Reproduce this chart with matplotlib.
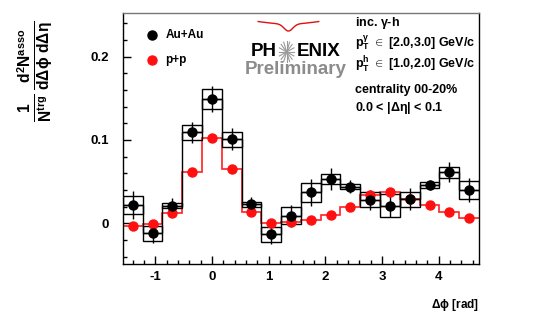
#!/usr/bin/env python3
"""PHENIX preliminary: inclusive photon-hadron correlation, Au+Au vs p+p."""

import numpy as np
import matplotlib
matplotlib.use("Agg")
import matplotlib.pyplot as plt
from matplotlib.patches import Rectangle
from matplotlib.ticker import MultipleLocator

# --- data ---
n_bins = 18
bin_edges = np.linspace(-np.pi / 2, 3 * np.pi / 2, n_bins + 1)

auau_y = [0.022, -0.012, 0.021, 0.109, 0.149, 0.101, 0.023, -0.013, 0.009,
          0.037, 0.053, 0.044, 0.028, 0.021, 0.029, 0.046, 0.061, 0.040]
auau_stat = [0.017, 0.012, 0.009, 0.013, 0.016, 0.013, 0.008, 0.012, 0.013,
             0.016, 0.013, 0.008, 0.012, 0.014, 0.013, 0.006, 0.012, 0.014]
auau_sys = [0.011, 0.009, 0.003, 0.009, 0.012, 0.009, 0.003, 0.009, 0.010,
            0.011, 0.006, 0.003, 0.009, 0.014, 0.009, 0.004, 0.007, 0.011]
pp_y = [-0.003, -0.001, 0.012, 0.061, 0.102, 0.065, 0.014, 0.000, 0.001,
        0.004, 0.010, 0.020, 0.034, 0.037, 0.029, 0.022, 0.014, 0.006]

info_lines = [
    r"inc. $\mathbf{\gamma}$-h",
    r"p$_\mathbf{T}^\mathbf{\gamma}$ $\in$ [2.0,3.0] GeV/c",
    r"p$_\mathbf{T}^\mathbf{h}$ $\in$ [1.0,2.0] GeV/c",
    "centrality 00-20%",
    r"0.0 < |$\Delta\eta$| < 0.1",
]

plt.rcParams["font.family"] = ["Liberation Sans", "DejaVu Sans"]
plt.rcParams["mathtext.fontset"] = "custom"
plt.rcParams["mathtext.rm"] = "Liberation Sans:bold"
plt.rcParams["mathtext.bf"] = "Liberation Sans:bold"
plt.rcParams["mathtext.it"] = "Liberation Sans:bold"

fig = plt.figure(figsize=(5.34, 3.31), dpi=100)
ax = fig.add_axes([0.230, 0.2024, 0.667, 0.7583])

centers = 0.5 * (bin_edges[:-1] + bin_edges[1:])
width = bin_edges[1] - bin_edges[0]

# p+p step line and points
ax.stairs(pp_y, bin_edges, baseline=None, color="#ff2020", lw=1.2, zorder=2)
ax.plot(centers, pp_y, "o", color="#ff1010", ms=6.5, zorder=4)

# Au+Au step line, sys boxes, x bars, stat bars
ax.stairs(auau_y, bin_edges, baseline=None, color="black", lw=1.0, zorder=3)
for i in range(n_bins):
    ax.add_patch(Rectangle((bin_edges[i], auau_y[i] - auau_sys[i]), width,
                           2 * auau_sys[i], fill=False, ec="black", lw=1.0,
                           zorder=3))
ax.hlines(auau_y, bin_edges[:-1], bin_edges[1:], color="black", lw=1.0, zorder=3)
ax.vlines(centers, np.array(auau_y) - np.array(auau_stat),
          np.array(auau_y) + np.array(auau_stat), color="black", lw=1.0, zorder=3)
ax.plot(centers, auau_y, "o", color="black", ms=6.5, zorder=5)

ax.set_xlim(bin_edges[0], bin_edges[-1])
ax.set_ylim(-0.049, 0.2525)
ax.xaxis.set_major_locator(MultipleLocator(1))
ax.xaxis.set_minor_locator(MultipleLocator(0.2))
ax.yaxis.set_major_locator(MultipleLocator(0.1))
ax.yaxis.set_minor_locator(MultipleLocator(0.02))
ax.tick_params(which="both", direction="in", top=False, right=False,
               labelsize=9.5)
ax.tick_params(which="major", length=6, width=1)
ax.tick_params(which="minor", length=3, width=1)
ax.tick_params(axis="y", pad=10)
ax.tick_params(axis="x", pad=5)
ax.set_xticks([-1, 0, 1, 2, 3, 4])
ax.set_xticklabels(["-1", "0", "1", "2", "3", "4"], fontweight="bold")
ax.set_yticks([0, 0.1, 0.2])
ax.set_yticklabels(["0", "0.1", "0.2"], fontweight="bold")
for s in ax.spines.values():
    s.set_linewidth(1.0)
ax.spines["top"].set_color("#777777")

# axis labels
ax.set_xlabel(r"$\Delta\phi$ [rad]", fontsize=8.5, fontweight="bold")
ax.xaxis.set_label_coords(1.0, -0.13)
ax.xaxis.label.set_horizontalalignment("right")
fig.text(0.066, 0.785,
         r"$\mathbf{\frac{1}{N^{trg}}\,\frac{d^2N^{asso}}{d\Delta\phi\ d\Delta\eta}}$",
         rotation=90, fontsize=16, ha="center", va="center")

# legend
ax.plot([0.083], [0.914], "o", color="black", ms=6.5, transform=ax.transAxes,
        clip_on=False)
ax.plot([0.083], [0.814], "o", color="#ff1010", ms=6.5, transform=ax.transAxes,
        clip_on=False)
ax.text(0.12, 0.914, "Au+Au", transform=ax.transAxes, fontsize=8.5,
        fontweight="bold", va="center")
ax.text(0.12, 0.814, "p+p", transform=ax.transAxes, fontsize=8.5,
        fontweight="bold", va="center")

# PHENIX logo
ax.text(0.432, 0.845, "PH", transform=ax.transAxes, fontsize=13.5,
        fontweight="bold", ha="right", va="center")
ax.text(0.488, 0.845, "ENIX", transform=ax.transAxes, fontsize=13.5,
        fontweight="bold", ha="left", va="center")
ax.text(0.627, 0.775, "Preliminary", transform=ax.transAxes, fontsize=13.5,
        fontweight="bold", ha="right", va="center", color="#8c8c8c")
star_x, star_y = 0.460, 0.845
for ang in np.linspace(0, np.pi, 8, endpoint=False):
    dx, dy = 0.022 * np.cos(ang), 0.042 * np.sin(ang)
    ax.plot([star_x - dx, star_x + dx], [star_y - dy, star_y + dy],
            color="#9a9a9a", lw=0.8, transform=ax.transAxes, clip_on=False)
t = np.linspace(0, 1, 40)
arc_x = 0.38 + 0.17 * t
arc_y = 0.966 - 0.028 * np.exp(-((t - 0.5) / 0.1) ** 2) - 0.01 * np.sin(np.pi * t)
ax.plot(arc_x, arc_y, color="#e01010", lw=1.0, transform=ax.transAxes,
        clip_on=False)

# info block
info_y = [0.960, 0.880, 0.793, 0.693, 0.622]
for txt, yy in zip(info_lines, info_y):
    ax.text(0.652, yy, txt, transform=ax.transAxes, fontsize=9,
            fontweight="bold", va="center", ha="left")

fig.savefig("out.png", dpi=100)
